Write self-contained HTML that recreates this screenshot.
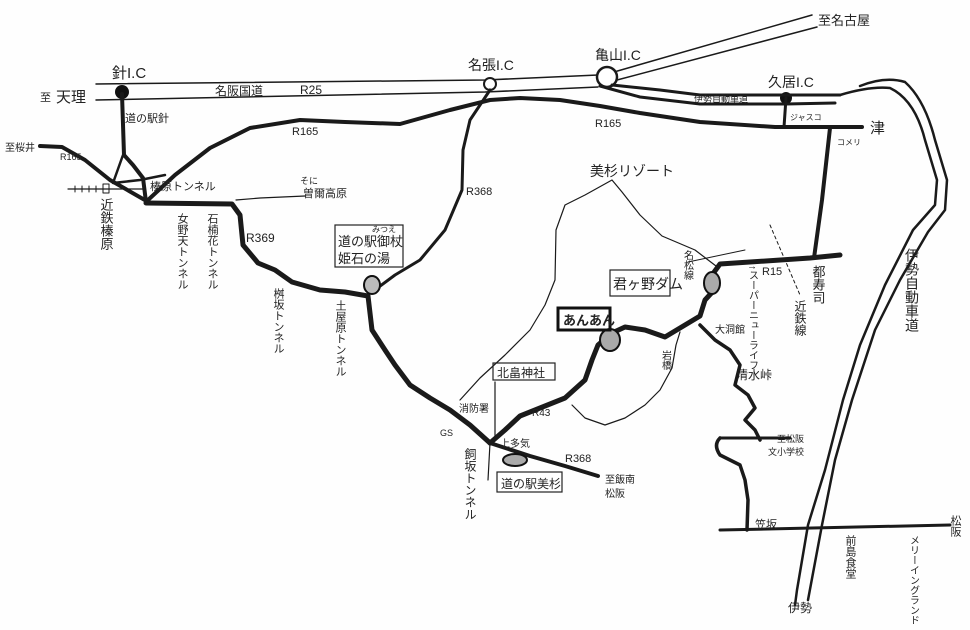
<!DOCTYPE html>
<html><head><meta charset="utf-8"><style>
html,body{margin:0;padding:0;background:#fff;}
svg{display:block}
text{font-family:"Liberation Sans","Noto Sans CJK JP",sans-serif;fill:#222}
.t{fill:none;stroke:#1a1a1a;stroke-linecap:round;stroke-linejoin:round}
</style></head><body>
<svg width="970" height="630" viewBox="0 0 970 630" xmlns="http://www.w3.org/2000/svg">
<rect width="970" height="630" fill="#fefefe"/>
<!-- Meihan highway -->
<path class="t" stroke-width="1.5" d="M96,84 L485,80 L598,75"/>
<path class="t" stroke-width="1.5" d="M96,100 L485,92 L598,87"/>
<path class="t" stroke-width="1.5" d="M614,72 L812,15"/>
<path class="t" stroke-width="1.5" d="M617,80 L817,27"/>
<circle cx="607" cy="77" r="10" fill="#fff" stroke="#1a1a1a" stroke-width="2.5"/>
<circle cx="490" cy="84" r="6" fill="#fff" stroke="#1a1a1a" stroke-width="2"/>
<circle cx="122" cy="92" r="7" fill="#111"/>
<circle cx="786" cy="98" r="6" fill="#111"/>
<!-- connector Kameyama - Kubo -->
<path class="t" stroke-width="3" d="M612,85 L660,90 L700,95 L786,95 L840,95"/>
<path class="t" stroke-width="3" d="M600,86 L640,97 L700,104 L786,104 L835,103"/>
<!-- Ise expressway -->
<path class="t" stroke-width="2.5" d="M860,86 Q885,76 905,82 Q925,100 935,140 L947,180 L945,210 L928,232 L900,280 L875,330 L852,400 L835,460 L822,525 L808,600"/>
<path class="t" stroke-width="2.5" d="M840,95 Q870,86 890,88 Q915,100 925,140 L937,180 L935,205 L913,230 L885,285 L860,345 L843,400 L825,470 L808,525 L797,590 L795,605"/>
<!-- R165 -->
<path class="t" stroke-width="4" d="M148,200 L175,175 L210,148 L250,128 L300,120 L345,122 L400,124 L450,110 L490,100 L520,98 L560,100 L600,106 L640,113 L700,122 L775,127 L862,127"/>
<path class="t" stroke-width="3" d="M786,98 L784,127"/>
<path class="t" stroke-width="4" d="M830,128 L822,200 L814,258"/>
<path class="t" stroke-width="4" d="M40,146 L62,147 L85,160 L110,180 L150,203"/>
<!-- Hari down -->
<path class="t" stroke-width="4" d="M122,94 L124,155 L133,165 L143,178 L146,202"/>
<path class="t" stroke-width="2.5" d="M123,155 L113,183 L140,180 L165,175"/>
<path class="t" stroke-width="1.2" d="M68,189 L145,189"/>
<path class="t" stroke-width="1" d="M75,186 v6 M82,186 v6 M89,186 v6 M96,186 v6 M103,184 h6 v9 h-6z"/>
<!-- R369 -->
<path class="t" stroke-width="5" d="M146,203 L232,204 L240,215 L243,245 L258,263 L275,270 L292,282 L320,290 L345,292 L368,296"/>
<path class="t" stroke-width="1.2" d="M236,200 L260,198 L305,196"/>
<!-- R368 north -->
<path class="t" stroke-width="3" d="M490,90 L470,120 L463,150 L462,190 L445,230 L420,260 L395,275 L372,292"/>
<!-- R368 south -->
<path class="t" stroke-width="5" d="M368,296 L372,330 L385,350 L395,365 L410,385 L430,398 L450,410 L470,425 L490,443"/>
<!-- R43 -->
<path class="t" stroke-width="5" d="M490,443 L505,430 L520,416 L545,406 L565,398 L585,380 L592,360 L598,345 L612,333 L625,327 L645,330 L665,337 L685,325 L700,316 L705,300 L716,288 L712,275 L720,264 L810,258 L840,255"/>
<path class="t" stroke-width="4" d="M490,443 L530,456 L565,466 L598,476"/>
<path class="t" stroke-width="1.2" d="M490,443 L488,480 M495,440 L495,382"/>
<!-- resort outline -->
<path class="t" stroke-width="1.2" d="M460,400 L480,378 L505,355 L530,330 L545,305 L555,280 L556,230 L565,205 L585,195 L612,180 L622,192 L640,215 L662,236 L695,250 L716,266"/>
<path class="t" stroke-width="1.2" d="M572,405 L585,418 L605,425 L625,418 L645,405 L660,390 L672,368 L676,345 L680,332"/>
<!-- Shimizu road -->
<path class="t" stroke-width="3.5" d="M700,325 L715,340 L730,350 L740,365 L735,385 L748,395 L755,408 L745,420 L755,430 L760,440"/>
<path class="t" stroke-width="3" d="M720,438 L790,438"/>
<path class="t" stroke-width="3.5" d="M720,438 Q713,445 720,455 L740,465 L745,480 L748,500 L747,530"/>
<path class="t" stroke-width="3" d="M720,530 L950,525"/>
<!-- railway dashed lines -->
<path class="t" stroke-width="1" stroke-dasharray="3,3" d="M770,225 L800,295"/>
<path class="t" stroke-width="1" d="M688,262 L745,250"/>
<!-- ellipses -->
<ellipse cx="372" cy="285" rx="8" ry="9" fill="#bbb" stroke="#111" stroke-width="2"/>
<ellipse cx="610" cy="340" rx="10" ry="11" fill="#aaa" stroke="#111" stroke-width="2"/>
<ellipse cx="712" cy="283" rx="8" ry="11" fill="#aaa" stroke="#111" stroke-width="2"/>
<ellipse cx="515" cy="460" rx="12" ry="6" fill="#aaa" stroke="#111" stroke-width="2"/>
<!-- boxes -->
<rect x="335" y="225" width="68" height="42" fill="none" stroke="#222" stroke-width="1.2"/>
<rect x="558" y="308" width="52" height="22" fill="none" stroke="#111" stroke-width="3"/>
<rect x="610" y="270" width="60" height="26" fill="none" stroke="#222" stroke-width="1.2"/>
<rect x="493" y="363" width="62" height="17" fill="none" stroke="#222" stroke-width="1.2"/>
<rect x="497" y="472" width="65" height="20" fill="none" stroke="#222" stroke-width="1.2"/>
<!-- labels -->
<g font-size="13">
<text x="112" y="78" font-size="15">針I.C</text>
<text x="40" y="101" font-size="11">至</text><text x="56" y="102" font-size="15">天理</text>
<text x="215" y="95" font-size="12">名阪国道</text><text x="300" y="94" font-size="12">R25</text>
<text x="468" y="70" font-size="14">名張I.C</text>
<text x="595" y="60" font-size="14">亀山I.C</text>
<text x="818" y="25" font-size="13">至名古屋</text>
<text x="768" y="87" font-size="14">久居I.C</text>
<text x="694" y="102" font-size="9">伊勢自動車道</text>
<text x="125" y="122" font-size="11">道の駅針</text>
<text x="5" y="151" font-size="10">至桜井</text>
<text x="60" y="160" font-size="9">R165</text>
<text x="292" y="135" font-size="11">R165</text>
<text x="595" y="127" font-size="11">R165</text>
<text x="790" y="120" font-size="8">ジャスコ</text>
<text x="837" y="145" font-size="8">コメリ</text>
<text x="870" y="133" font-size="15">津</text>
<text x="150" y="190" font-size="11">榛原トンネル</text>
<text x="300" y="184" font-size="9">そに</text><text x="303" y="197" font-size="11">曽爾高原</text>
<text x="590" y="176" font-size="14">美杉リゾート</text>
<text x="466" y="195" font-size="11">R368</text>
<text x="246" y="242" font-size="12">R369</text>
<text x="372" y="232" font-size="8">みつえ</text>
<text x="338" y="246" font-size="13">道の駅御杖</text>
<text x="338" y="263" font-size="13">姫石の湯</text>
<text x="613" y="289" font-size="14">君ヶ野ダム</text>
<text x="563" y="325" font-size="13" font-weight="bold">あんあん</text>
<text x="497" y="377" font-size="12">北畠神社</text>
<text x="501" y="488" font-size="12">道の駅美杉</text>
<text x="762" y="275" font-size="11">R15</text>
<text x="715" y="333" font-size="10">大洞館</text>
<text x="736" y="379" font-size="12">清水峠</text>
<text x="777" y="442" font-size="9">至松阪</text>
<text x="768" y="455" font-size="9">文小学校</text>
<text x="755" y="528" font-size="11">笠坂</text>
<text x="459" y="412" font-size="10">消防署</text>
<text x="532" y="416" font-size="10">R43</text>
<text x="500" y="447" font-size="10">上多気</text>
<text x="565" y="462" font-size="11">R368</text>
<text x="605" y="483" font-size="10">至飯南</text>
<text x="605" y="497" font-size="10">松阪</text>
<text x="440" y="436" font-size="9">GS</text>
<text x="788" y="612" font-size="12">伊勢</text>
</g>
<!-- vertical labels -->
<g font-size="13" style="writing-mode:vertical-rl">
<text x="106" y="198">近鉄榛原</text>
<text x="182" y="213" font-size="11">女野天トンネル</text>
<text x="212" y="213" font-size="11">石楠花トンネル</text>
<text x="278" y="288" font-size="11">桝坂トンネル</text>
<text x="340" y="300" font-size="11">土屋原トンネル</text>
<text x="470" y="448" font-size="12">飼坂トンネル</text>
<text x="687" y="250" font-size="10">名松線</text>
<text x="665" y="350" font-size="10">岩橋</text>
<text x="752" y="265" font-size="10">↑スーパーニューライフ</text>
<text x="818" y="265" font-size="13">都寿司</text>
<text x="800" y="300" font-size="12">近鉄線</text>
<text x="912" y="248" font-size="14">伊勢自動車道</text>
<text x="850" y="535" font-size="11">前島食堂</text>
<text x="913" y="535" font-size="10">メリーイングランド</text>
<text x="955" y="515" font-size="11">松阪</text>
</g>
</svg>
</body></html>
